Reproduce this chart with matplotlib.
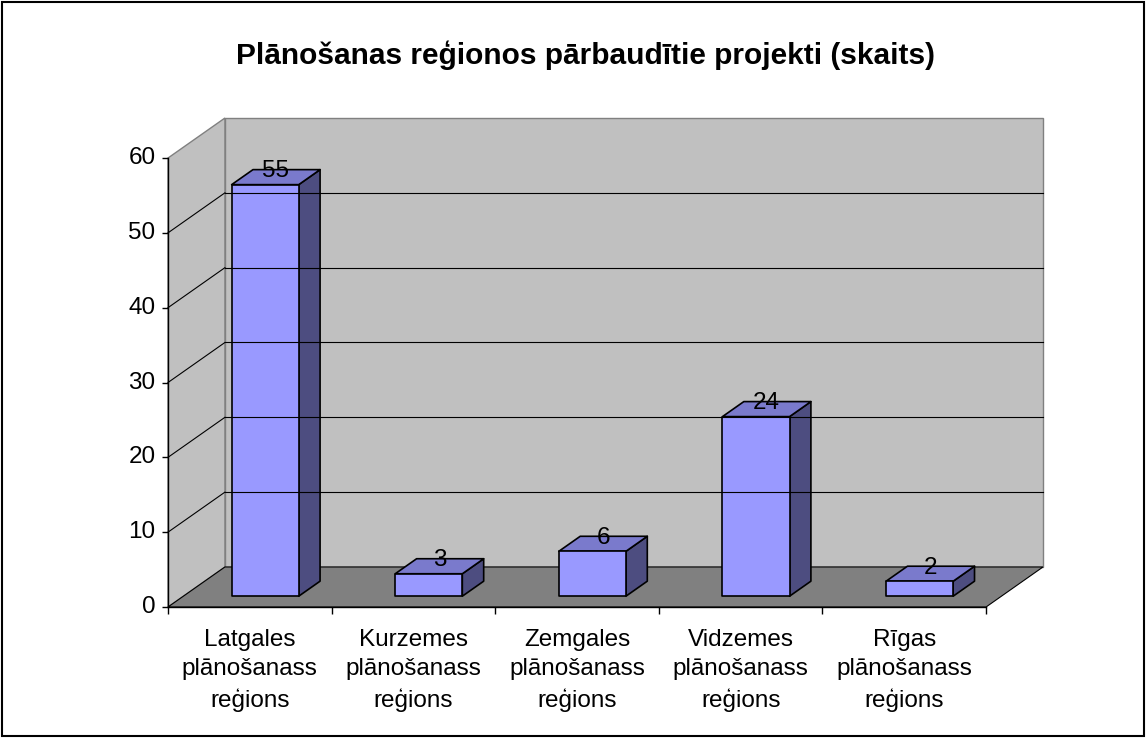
import matplotlib.pyplot as plt
from matplotlib.patches import Polygon, Rectangle

# dati
kategorijas = ['Latgales\nplānošanass\nreģions', 'Kurzemes\nplānošanass\nreģions',
               'Zemgales\nplānošanass\nreģions', 'Vidzemes\nplānošanass\nreģions',
               'Rīgas\nplānošanass\nreģions']
skaits = [55, 3, 6, 24, 2]
y_ticks = [0, 10, 20, 30, 40, 50, 60]
virsraksts = 'Plānošanas reģionos pārbaudītie projekti (skaits)'

plt.rcParams['font.family'] = ['Liberation Sans', 'DejaVu Sans']

# ── 3D izskats: dziļuma nobīde ────────────────────────────────────────────────
DX, DY = 0.348, 5.35          # nobīde pilnam dziļumam (kat. vienības, vērtības)
YMAX = 60
N = len(skaits)
Z0, Z1 = 0.27, 0.645          # stabiņa priekša / aizmugure
W = 0.41                      # stabiņa platums
FS = 17.5


def p(x, y, z):
    return (x + DX * z, y + DY * z)


fig = plt.figure(figsize=(11.46, 7.38), dpi=100)
ax = fig.add_axes([168 / 1146, 1 - 607 / 738, 875 / 1146, 489 / 738])
ax.set_xlim(0, N + DX)
ax.set_ylim(0, YMAX + DY)
ax.axis('off')

# sienas un grīda
ax.add_patch(Polygon([p(0, 0, 1), p(N, 0, 1), p(N, YMAX, 1), p(0, YMAX, 1)],
                     fc='#C0C0C0', ec='#808080', lw=1, clip_on=False))
ax.add_patch(Polygon([p(0, 0, 0), p(0, 0, 1), p(0, YMAX, 1), p(0, YMAX, 0)],
                     fc='#C0C0C0', ec='#808080', lw=1, clip_on=False))
ax.add_patch(Polygon([p(0, 0, 0), p(N, 0, 0), p(N, 0, 1), p(0, 0, 1)],
                     fc='#808080', ec='black', lw=0.8, clip_on=False))

# režģa līnijas
for v in y_ticks[1:-1]:
    ax.plot(*zip(p(0, v, 1), p(N, v, 1)), color='black', lw=0.8, clip_on=False)
    ax.plot(*zip(p(0, v, 0), p(0, v, 1)), color='black', lw=0.8, clip_on=False)

# asis
ax.plot([0, 0], [0, YMAX], color='black', lw=1, clip_on=False)
ax.plot([0, N], [0, 0], color='black', lw=1, clip_on=False)
for v in y_ticks:
    ax.plot([0], [v], marker=0, markersize=4.5, color='black', mew=1, clip_on=False)
    ax.annotate(str(v), xy=(0, v), xytext=(-9, 0), textcoords='offset points',
                ha='right', va='center', fontsize=FS)
for i in range(N + 1):
    ax.plot([i], [0], marker=3, markersize=5, color='black', mew=1, clip_on=False)
for i, lab in enumerate(kategorijas):
    ax.annotate(lab, xy=(i + 0.5, 0), xytext=(0, -16), textcoords='offset points',
                ha='center', va='top', fontsize=FS, linespacing=1.42)

# stabiņi
for i, v in enumerate(skaits):
    x0 = i + 0.5 - W / 2
    x1 = i + 0.5 + W / 2
    front = [p(x0, 0, Z0), p(x1, 0, Z0), p(x1, v, Z0), p(x0, v, Z0)]
    top = [p(x0, v, Z0), p(x1, v, Z0), p(x1, v, Z1), p(x0, v, Z1)]
    side = [p(x1, 0, Z0), p(x1, 0, Z1), p(x1, v, Z1), p(x1, v, Z0)]
    ax.add_patch(Polygon(side, fc='#4D4D80', ec='black', lw=1.2, joinstyle='round', clip_on=False))
    ax.add_patch(Polygon(top, fc='#7A7ACC', ec='black', lw=1.2, joinstyle='round', clip_on=False))
    ax.add_patch(Polygon(front, fc='#9999FF', ec='black', lw=1.2, joinstyle='round', clip_on=False))
    cx, cy = p(i + 0.5, v, (Z0 + Z1) / 2)
    ax.text(cx, cy, str(v), ha='center', va='baseline', fontsize=FS)

fig.text(585 / 1146, 1 - 64 / 738, virsraksts, ha='center', va='baseline',
         fontsize=21.5, fontweight='bold')

fig.patches.append(Rectangle((0.002, 0.003), 0.996, 0.994, transform=fig.transFigure,
                             fill=False, ec='black', lw=1.5))

fig.savefig('out.png', dpi=100)
